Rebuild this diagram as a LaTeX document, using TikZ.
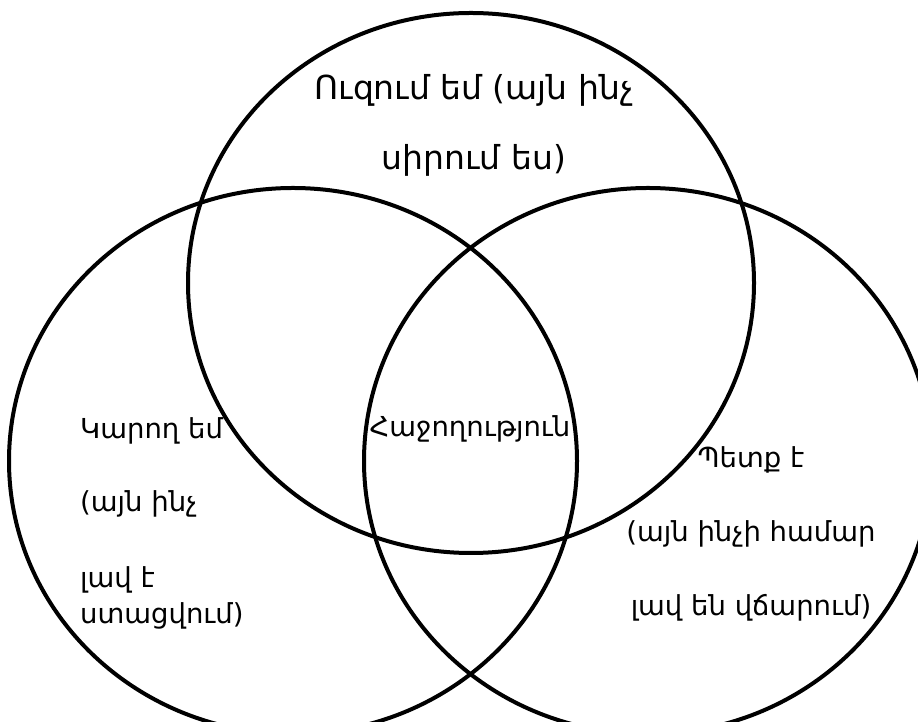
\documentclass[tikz,border=0pt]{standalone}
\usepackage{fontspec}
\setmainfont{DejaVu Sans}
\usetikzlibrary{positioning}

\begin{document}
\begin{tikzpicture}[
        x=1pt, y=1pt,
        % Define styles for the sets and labels
        set_ring/.style={draw, line width=4pt},
        set_label/.style={inner sep=0pt, font=\fontsize{27.5}{36}\selectfont},
        big_label/.style={set_label, font=\fontsize{33}{36}\selectfont}
    ]

    \useasboundingbox (0,0) rectangle (918,722);
    \clip (0,0) rectangle (918,722);

    % === Centres of the three sets ===
    \coordinate (want_c) at (471,439);
    \coordinate (can_c) at (293,261);
    \coordinate (must_c) at (648,261);

    % === Rings ===
    \draw [set_ring] (want_c) ellipse [x radius=283, y radius=270];
    \draw [set_ring] (can_c) ellipse [x radius=284, y radius=273];
    \draw [set_ring] (must_c) ellipse [x radius=284, y radius=273];

    % === Labels ===
    \node (want) [big_label, anchor=base, align=center] at (474,552) {Ուզում եմ (այն ինչ\\[34pt]սիրում ես)};
    \node (can) [set_label, anchor=north west, align=left] at (80,305) {Կարող եմ\\[37pt](այն ինչ\\[40pt]լավ է\\ստացվում)};
    \node (success) [set_label, anchor=base] at (470,285) {Հաջողություն};
    \node (must) [set_label, anchor=north, align=center] at (751,276) {Պետք է\\[38pt](այն ինչի համար\\[38pt]լավ են վճարում)};

\end{tikzpicture}
\end{document}
